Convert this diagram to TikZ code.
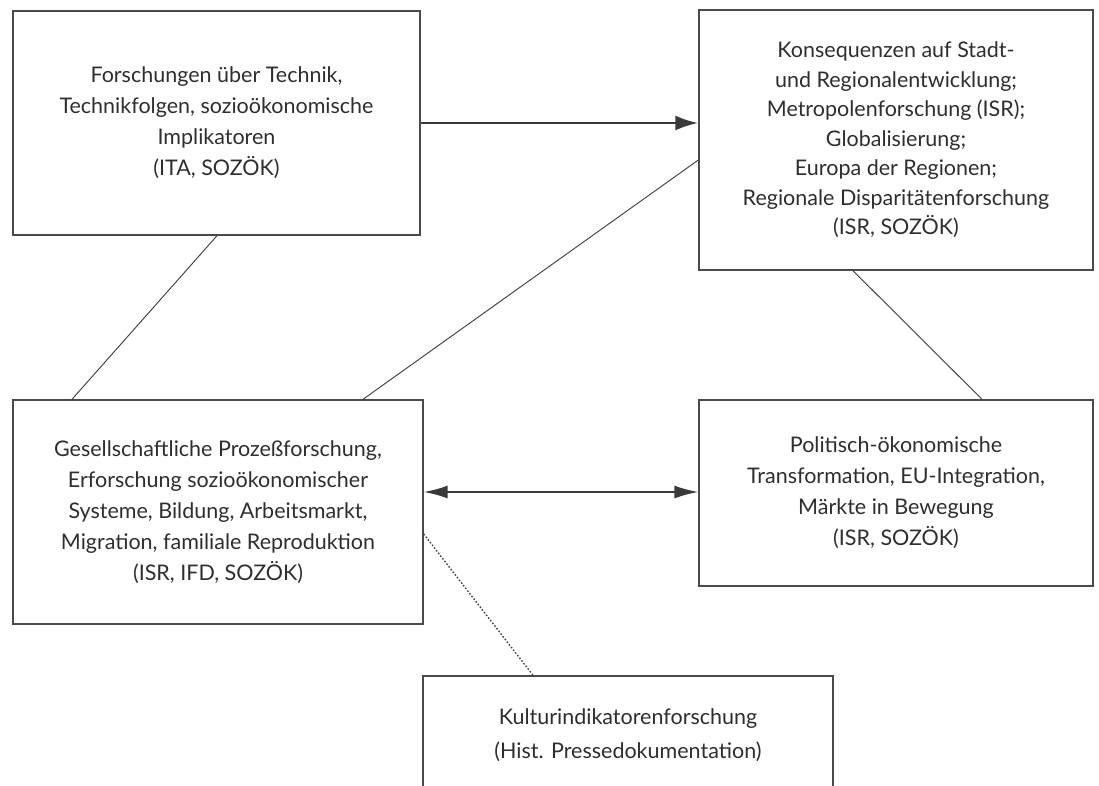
\documentclass[tikz,border=0pt]{standalone}
\usepackage{fontspec}
\setmainfont{Lato}
\usetikzlibrary{arrows.meta,calc}
\definecolor{boxline}{HTML}{4A4A4A}
\definecolor{txt}{HTML}{2E2E2E}
\definecolor{conn}{HTML}{3A3A3A}
\begin{document}
\begin{tikzpicture}[x=1pt,y=-1pt,
  box/.style={draw=boxline, line width=1.4pt, fill=none, align=center, text=txt,
    font=\fontsize{21.5}{31}\selectfont, inner sep=0pt},
  link/.style={draw=conn, line width=0.9pt},
  dotlink/.style={draw=conn, line width=1.3pt, dash pattern=on 1.6pt off 1.8pt},
  bigarrow/.style={draw=conn, line width=2.8pt, -{Latex[length=23pt,width=15pt]}},
  twoarrow/.style={draw=conn, line width=1.6pt, {Latex[length=24pt,width=13pt]}-{Latex[length=24pt,width=13pt]}}
]
\useasboundingbox (0,0) rectangle (1099,785);
\node[box, minimum width=407pt, minimum height=224pt] (A) at (216.5,123)
  {Forschungen über Technik,\\Technikfolgen, sozioökonomische\\Implikatoren\\(ITA, SOZÖK)};
\node[box, minimum width=394pt, minimum height=260pt, font=\fontsize{21.5}{29.5}\selectfont] (B) at (896,140)
  {Konsequenzen auf Stadt-\\und Regionalentwicklung;\\Metropolenforschung (ISR);\\Globalisierung;\\Europa der Regionen;\\Regionale Disparitätenforschung\\(ISR, SOZÖK)};
\node[box, minimum width=410pt, minimum height=224pt] (C) at (218,512)
  {Gesellschaftliche Prozeßforschung,\\Erforschung sozioökonomischer\\Systeme, Bildung, Arbeitsmarkt,\\Migration, familiale Reproduktion\\(ISR, IFD, SOZÖK)};
\node[box, minimum width=394pt, minimum height=186pt] (D) at (896,493)
  {Politisch-ökonomische\\Transformation, EU-Integration,\\Märkte in Bewegung\\(ISR, SOZÖK)};
\node[box, minimum width=410pt, minimum height=118pt, font=\fontsize{21.5}{34}\selectfont] (E) at (628,735)
  {Kulturindikatorenforschung\\(Hist. Pressedokumentation)};
\draw[bigarrow] (A.east) -- (A.east -| B.west);
\draw[twoarrow] ([yshift=20pt]C.east) -- ([yshift=20pt]C.east -| D.west);
\draw[link] ([xshift=0.5pt]A.south) -- ([xshift=-146pt]C.north);
\draw[link] ([xshift=145pt]C.north) -- ([yshift=-20pt]B.west);
\draw[link] ([xshift=-43pt]B.south) -- ([xshift=86pt]D.north);
\draw[dotlink] ([yshift=-22pt]C.east) -- ([xshift=-95pt]E.north);
\end{tikzpicture}
\end{document}
